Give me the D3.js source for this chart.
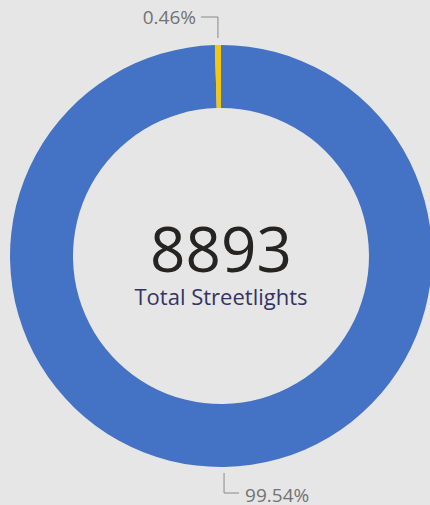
<!DOCTYPE html>
<html>
<head>
<meta charset="utf-8">
<script src="https://cdn.jsdelivr.net/npm/d3@7"></script>
<style>
  html, body { margin: 0; padding: 0; background: #e6e6e6; overflow: hidden; }
  svg { display: block; }
</style>
</head>
<body>
<div id="chart"></div>
<script>
// streetlight counts per category
const categories = ["Working", "Faulty"];
const counts = [8852, 41];
const colors = ["#4472c4", "#f2c80f"];
const centerLabel = "Total Streetlights";

const width = 430;
const height = 505;
const cx = 221, cy = 256;
const outerR = 211, innerR = 148;

const total = d3.sum(counts);
const data = categories.map((c, i) => ({category: c, count: counts[i]}));

const svg = d3.select("#chart")
    .append("svg")
    .attr("width", width)
    .attr("height", height);

const g = svg.append("g")
    .attr("transform", `translate(${cx},${cy})`);

const pie = d3.pie()
    .sort(null)
    .value(d => d.count);

const arc = d3.arc()
    .innerRadius(innerR)
    .outerRadius(outerR);

const arcs = pie(data);

g.selectAll("path")
    .data(arcs)
    .join("path")
    .attr("d", arc)
    .attr("fill", (d, i) => colors[i]);

// percentage labels with leader lines
const fmt = d3.format(".2%");
const labelFont = "'Segoe UI', 'Open Sans', sans-serif";

arcs.forEach(d => {
    const mid = (d.startAngle + d.endAngle) / 2;
    const x = outerR * Math.sin(mid);
    const y = -outerR * Math.cos(mid);
    const top = y < 0;
    const y0 = top ? y - 7 : y + 6;
    const y1 = top ? -239 : 237;
    const x1 = top ? x - 17 : x + 15;
    g.append("path")
        .attr("d", `M${x},${y0}V${y1}H${x1}`)
        .attr("fill", "none")
        .attr("stroke", "#8a8a8a")
        .attr("stroke-width", 1);
    g.append("text")
        .attr("x", top ? x1 - 5 : x1 + 6)
        .attr("y", top ? y1 + 7 : y1 + 9)
        .attr("text-anchor", top ? "end" : "start")
        .attr("font-family", labelFont)
        .attr("font-size", 19)
        .attr("fill", "#737373")
        .text(fmt(d.data.count / total));
});

// center total
g.append("text")
    .attr("y", 16)
    .attr("text-anchor", "middle")
    .attr("font-family", labelFont)
    .attr("font-size", 62)
    .attr("fill", "#252423")
    .text(total);

g.append("text")
    .attr("y", 49)
    .attr("text-anchor", "middle")
    .attr("font-family", labelFont)
    .attr("font-size", 22)
    .attr("fill", "#343462")
    .text(centerLabel);
</script>
</body>
</html>
